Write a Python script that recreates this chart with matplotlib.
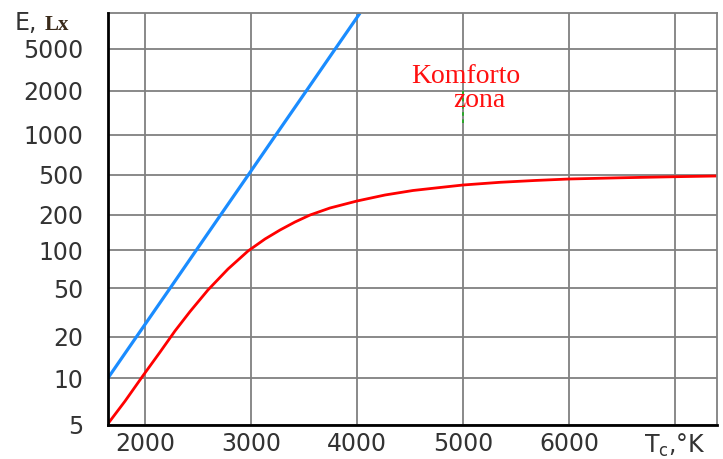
import numpy as np
import matplotlib
matplotlib.use('Agg')
import matplotlib.pyplot as plt
from matplotlib.ticker import FixedLocator, FixedFormatter, NullLocator

# Datos (temperatura de color en K, iluminancia en lx)
temp_blue = [1651, 1918, 2238, 2485, 2713, 2974, 3234, 3521, 3794, 4029]
lux_blue = [10, 20, 50, 100, 200, 500, 1000, 2000, 5000, 11000]

temp_red = [1651, 1811, 1981, 2142, 2283, 2425, 2594, 2783, 2972, 3132,
            3274, 3415, 3557, 3745, 4000, 4264, 4528, 4783, 5000, 5349,
            5679, 6000, 6481, 7009, 7396]
lux_red = [5.1, 7.1, 10.4, 15.5, 22.4, 32.2, 48.2, 70.7, 98.2, 124.3,
           148.6, 174.1, 200, 234.8, 275.6, 316.2, 350.6, 375.5, 397.6, 423,
           441, 456.3, 469, 481, 488.7]

zone_temp = [5000, 5000]
zone_lux = [1208, 2000]

y_ticks = [5, 10, 20, 50, 100, 200, 500, 1000, 2000, 5000]
y_labels = ['5', '10', '20', '50', '100', '200', '500', '1000', '2000', '5000']
x_ticks = [2000, 3000, 4000, 5000, 6000, 7000]
x_labels = ['2000', '3000', '4000', '5000', '6000', r'T$_{\rm c}$,°K']

# Escala vertical irregular del original (posición en px de cada línea)
scale_lux = [5, 10, 20, 50, 100, 200, 500, 1000, 2000, 5000, 11000]
scale_px = [425, 378, 337, 288, 250, 215, 175, 135, 91, 49, 13]
log_knots = np.log10(scale_lux)
frac_knots = (425 - np.array(scale_px)) / (425 - 13)


def fwd(v):
    v = np.clip(np.asarray(v, dtype=float), 1e-3, None)
    return np.interp(np.log10(v), log_knots, frac_knots)


def inv(f):
    return 10 ** np.interp(np.asarray(f, dtype=float), frac_knots, log_knots)


W, H = 723, 459
fig = plt.figure(figsize=(W / 100, H / 100), dpi=100)
ax = fig.add_axes([108 / W, 1 - 425 / H, (717 - 108) / W, (425 - 13) / H])
ax.set_yscale('function', functions=(fwd, inv))
ax.set_xlim(1651, 7396)
ax.set_ylim(5, 11000)

grid_c = '#808080'
ax.yaxis.set_major_locator(FixedLocator(y_ticks))
ax.yaxis.set_major_formatter(FixedFormatter(y_labels))
ax.yaxis.set_minor_locator(NullLocator())
ax.xaxis.set_major_locator(FixedLocator(x_ticks))
ax.xaxis.set_major_formatter(FixedFormatter(x_labels))
ax.xaxis.set_minor_locator(NullLocator())
ax.grid(True, color=grid_c, lw=1.3)
ax.set_axisbelow(True)

ax.tick_params(length=0, labelsize=17, colors='#333333')
ax.tick_params(axis='y', pad=18)
ax.tick_params(axis='x', pad=5)

for side in ['top', 'right']:
    ax.spines[side].set_color(grid_c)
    ax.spines[side].set_linewidth(1.3)
for side in ['left', 'bottom']:
    ax.spines[side].set_color('black')
    ax.spines[side].set_linewidth(2)
    ax.spines[side].set_zorder(5)

# Curvas
ax.plot(temp_blue, lux_blue, color='#1a8cff', lw=2.3, solid_capstyle='butt')
ax.plot(temp_red, lux_red, color='#ff0000', lw=2.0)
ax.plot(zone_temp, zone_lux, color='#22aa22', lw=1.3, ls=(0, (2, 2)))

# Textos
ax.text((466 - 108) / 609, (425 - 83) / 412, 'Komforto', transform=ax.transAxes,
        ha='center', va='baseline', color='#ff1010', fontsize=20,
        family='Liberation Serif')
ax.text((479 - 108) / 609, (425 - 107) / 412, 'zona', transform=ax.transAxes,
        ha='center', va='baseline', color='#ff1010', fontsize=20,
        family='Liberation Serif')

fig.text(15 / W, 1 - 30 / H, 'E,', ha='left', va='baseline',
         fontsize=17, color='#333333')
fig.text(45 / W, 1 - 30 / H, 'Lx', ha='left', va='baseline',
         fontsize=15, color='#3a2a1a', family='Liberation Serif',
         weight='bold')

fig.savefig('out.png', dpi=100)
